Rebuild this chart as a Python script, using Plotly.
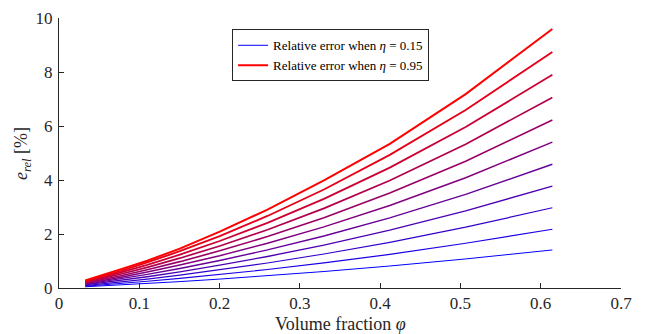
import plotly.graph_objects as go

phi = [0.0327, 0.0518, 0.0773, 0.1099, 0.1505, 0.2002, 0.2597, 0.3300, 0.4120, 0.5065, 0.6145]

eta = [0.15, 0.23, 0.31, 0.39, 0.47, 0.55, 0.63, 0.71, 0.79, 0.87, 0.95]

e_rel = [
    [0.046, 0.074, 0.113, 0.166, 0.237, 0.330, 0.453, 0.611, 0.815, 1.076, 1.409],
    [0.067, 0.109, 0.168, 0.248, 0.355, 0.498, 0.685, 0.930, 1.247, 1.655, 2.178],
    [0.090, 0.146, 0.225, 0.332, 0.477, 0.670, 0.925, 1.258, 1.692, 2.252, 2.971],
    [0.113, 0.183, 0.282, 0.417, 0.600, 0.844, 1.167, 1.591, 2.142, 2.856, 3.773],
    [0.135, 0.220, 0.340, 0.504, 0.724, 1.020, 1.412, 1.926, 2.597, 3.466, 4.583],
    [0.159, 0.258, 0.398, 0.591, 0.850, 1.198, 1.659, 2.265, 3.056, 4.082, 5.402],
    [0.182, 0.296, 0.457, 0.678, 0.976, 1.376, 1.906, 2.604, 3.516, 4.698, 6.220],
    [0.206, 0.334, 0.517, 0.766, 1.104, 1.557, 2.158, 2.950, 3.984, 5.326, 7.055],
    [0.229, 0.373, 0.577, 0.856, 1.233, 1.741, 2.413, 3.299, 4.457, 5.960, 7.897],
    [0.253, 0.412, 0.637, 0.946, 1.363, 1.924, 2.667, 3.648, 4.930, 6.594, 8.740],
    [0.277, 0.451, 0.698, 1.010, 1.460, 2.090, 2.900, 3.990, 5.340, 7.180, 9.591],
]

x_ticks = [0, 0.1, 0.2, 0.3, 0.4, 0.5, 0.6, 0.7]
y_ticks = [0, 2, 4, 6, 8, 10]

x_title = "Volume fraction <i>φ</i>"
y_title = "<i>e<sub>rel</sub></i> [%]"

FONT = "'Liberation Serif', 'DejaVu Serif', serif"
AX = "#262626"

fig = go.Figure()
n = len(eta)
for k in range(n):
    t = k / (n - 1)
    col = f"rgb({round(255 * t)},0,{round(255 * (1 - t))})"
    show = k == 0 or k == n - 1
    fig.add_trace(go.Scatter(
        x=phi, y=e_rel[k], mode="lines",
        line=dict(color=col, width=1 + 0.1 * k),
        name=f"Relative error when <i>η</i> = {eta[k]:.2f}",
        showlegend=show,
    ))

fig.update_layout(
    width=646, height=334,
    margin=dict(l=59, r=25, t=18, b=46),
    plot_bgcolor="white", paper_bgcolor="white",
    font=dict(family=FONT, size=17, color=AX),
    legend=dict(
        x=0.308, y=0.958, xanchor="left", yanchor="top",
        bgcolor="white", bordercolor=AX, borderwidth=1,
        font=dict(family=FONT, size=13, color="black"),
        tracegroupgap=0, itemwidth=30,
    ),
    xaxis=dict(
        range=[0, 0.7], tickvals=x_ticks, ticktext=[f"{v:g}" for v in x_ticks],
        showline=True, linecolor=AX, linewidth=1, mirror=False,
        ticks="inside", ticklen=5, tickcolor=AX, ticklabelstandoff=0,
        tickfont=dict(family=FONT, size=17, color=AX),
        showgrid=False, zeroline=False, automargin=False,
    ),
    yaxis=dict(
        range=[0, 10], tickvals=y_ticks,
        showline=True, linecolor=AX, linewidth=1, mirror=False,
        ticks="inside", ticklen=5, tickcolor=AX, ticklabelstandoff=2,
        tickfont=dict(family=FONT, size=17, color=AX),
        showgrid=False, zeroline=False, automargin=False,
    ),
    annotations=[
        dict(text=x_title, xref="paper", yref="paper", x=0.5, y=-0.135,
             xanchor="center", yanchor="middle", showarrow=False,
             font=dict(family=FONT, size=18, color=AX)),
        dict(text=y_title, xref="paper", yref="paper", x=-0.066, y=0.5,
             xanchor="center", yanchor="middle", showarrow=False, textangle=-90,
             font=dict(family=FONT, size=18, color=AX)),
    ],
)

fig.write_html("out.html")
